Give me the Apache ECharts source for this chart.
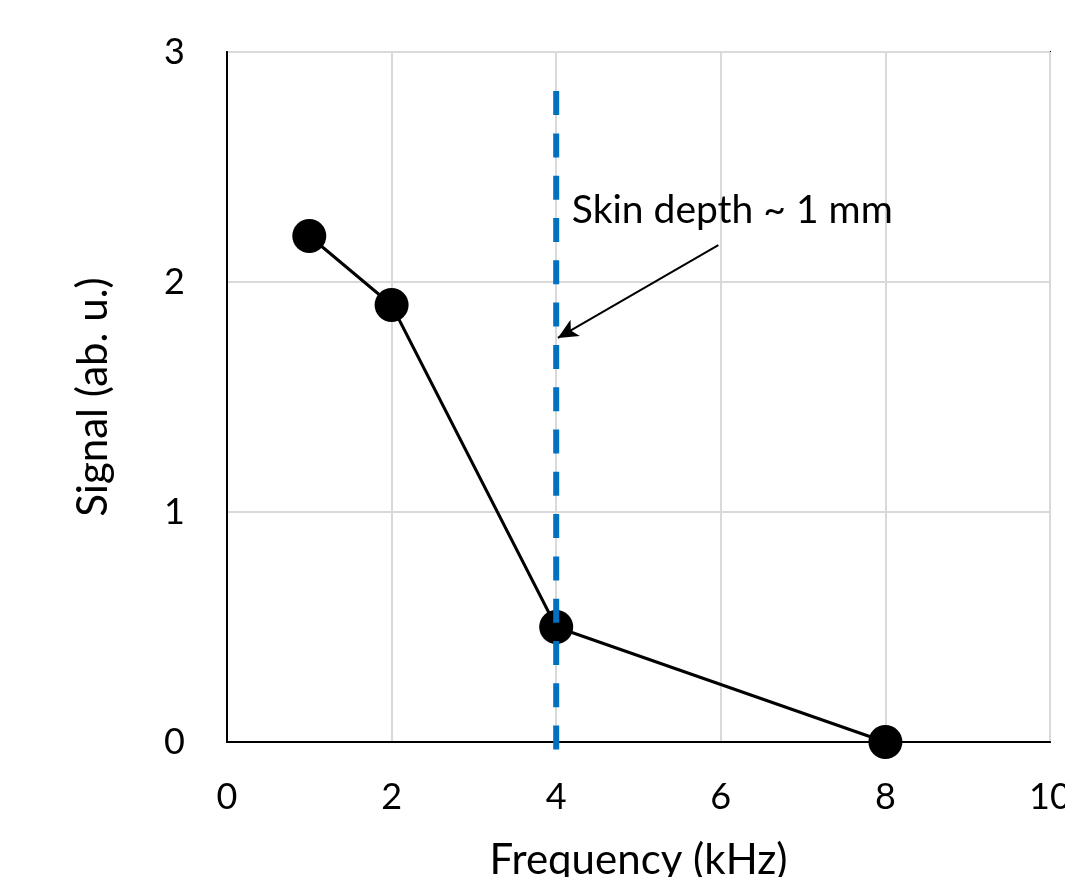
<!DOCTYPE html>
<html>
<head>
<meta charset="utf-8">
<script src="https://cdn.jsdelivr.net/npm/echarts@6/dist/echarts.min.js"></script>
<style>html,body{margin:0;padding:0;background:#fff}#c{width:1065px;height:877px}</style>
</head>
<body>
<div id="c"></div>
<script>
const freq = [1, 2, 4, 8];
const signal = [2.2, 1.9, 0.5, 0];
const xTicks = [0, 2, 4, 6, 8, 10];
const yTicks = [0, 1, 2, 3];
const skinLineX = [4, 4];
const skinLineY = [2.83, -0.05];
const arrowFrom = [5.97, 2.16];
const arrowTo = [4.02, 1.757];
const annotPos = [4.19, 2.31];
const annotText = 'Skin depth ~ 1 mm';

const FONT = 'Lato';
const chart = echarts.init(document.getElementById('c'));
chart.setOption({
  animation: false,
  backgroundColor: '#fff',
  grid: { left: 227, right: 15, top: 52, bottom: 135, show: true, borderColor: '#000', borderWidth: 2,
          containLabel: false, outerBoundsMode: 'none' },
  xAxis: {
    type: 'value', min: xTicks[0], max: xTicks[xTicks.length - 1], interval: 2,
    name: 'Frequency (kHz)', nameLocation: 'middle', nameGap: 97,
    nameTextStyle: { fontFamily: FONT, fontSize: 42, color: '#000' },
    axisLine: { show: true, lineStyle: { color: '#000', width: 2 } },
    axisTick: { show: false },
    axisLabel: { fontFamily: FONT, fontSize: 36, color: '#000', margin: 37 },
    splitLine: { show: true, lineStyle: { color: '#d9d9d9', width: 2 } }
  },
  yAxis: {
    type: 'value', min: yTicks[0], max: yTicks[yTicks.length - 1], interval: 1,
    name: 'Signal (ab. u.)', nameLocation: 'middle', nameGap: 113, nameRotate: 90,
    nameTextStyle: { fontFamily: FONT, fontSize: 42, color: '#000' },
    axisLine: { show: true, lineStyle: { color: '#000', width: 2 } },
    axisTick: { show: false },
    axisLabel: { fontFamily: FONT, fontSize: 36, color: '#000', margin: 42 },
    splitLine: { show: true, lineStyle: { color: '#d9d9d9', width: 2 } }
  },
  series: [
    {
      type: 'line', z: 3,
      data: freq.map((f, i) => [f, signal[i]]),
      symbol: 'circle', symbolSize: 34,
      itemStyle: { color: '#000' },
      lineStyle: { color: '#000', width: 3 },
      clip: false
    },
    {
      type: 'line', z: 4, clip: false,
      data: skinLineX.map((x, i) => [x, skinLineY[i]]),
      symbol: 'none',
      lineStyle: { color: '#0070C0', width: 6, type: [24, 18.3] },
      markLine: {
        silent: true, symbol: ['none', 'arrow'], symbolSize: [14, 20],
        label: { show: false },
        lineStyle: { color: '#000', width: 2, type: 'solid' },
        data: [[{ coord: arrowFrom }, { coord: arrowTo }]]
      }
    },
    {
      type: 'scatter', z: 5, symbolSize: 0,
      data: [annotPos],
      itemStyle: { opacity: 1 },
      label: { show: true, position: 'right', distance: 0, formatter: annotText,
        fontFamily: FONT, fontSize: 39, color: '#000', opacity: 1 }
    }
  ]
});
</script>
</body>
</html>
